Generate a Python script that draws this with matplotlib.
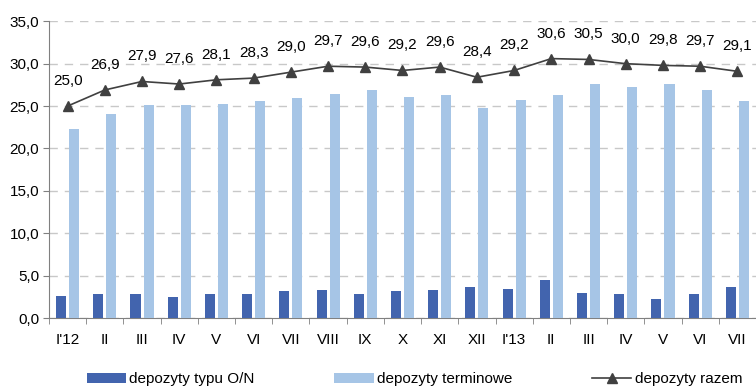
import numpy as np
import matplotlib.pyplot as plt

plt.rcParams['font.family'] = ['Liberation Sans', 'DejaVu Sans']

# data (bn PLN)
months = ["I'12", 'II', 'III', 'IV', 'V', 'VI', 'VII', 'VIII', 'IX', 'X', 'XI', 'XII',
          "I'13", 'II', 'III', 'IV', 'V', 'VI', 'VII']
on_dep = [2.6, 2.8, 2.8, 2.5, 2.8, 2.8, 3.2, 3.3, 2.8, 3.2, 3.3, 3.6,
          3.4, 4.5, 2.9, 2.8, 2.2, 2.8, 3.6]
term_dep = [22.3, 24.1, 25.1, 25.1, 25.2, 25.6, 25.9, 26.4, 26.9, 26.1, 26.3, 24.8,
            25.7, 26.3, 27.6, 27.2, 27.6, 26.9, 25.6]
total_dep = [25.0, 26.9, 27.9, 27.6, 28.1, 28.3, 29.0, 29.7, 29.6, 29.2, 29.6, 28.4,
             29.2, 30.6, 30.5, 30.0, 29.8, 29.7, 29.1]

fig = plt.figure(figsize=(7.56, 3.88), dpi=100)
ax = fig.add_axes([0.0648, 0.1804, 0.9352, 0.7647])

x = np.arange(len(months))
w = 0.27
b1 = ax.bar(x - 0.175, on_dep, w, color='#4264AE', label='depozyty typu O/N', zorder=3)
b2 = ax.bar(x + 0.175, term_dep, w, color='#A6C5E6', label='depozyty terminowe', zorder=3)
l1, = ax.plot(x, total_dep, color='#404040', lw=1.2, marker='^', ms=7,
              label='depozyty razem', zorder=4)

for xi, v in zip(x, total_dep):
    ax.annotate(f'{v:.1f}'.replace('.', ','), (xi, v), xytext=(0, 18),
                textcoords='offset points', ha='center', va='center', fontsize=11,
                color='black')

ax.set_ylim(0, 35)
ax.set_xlim(-0.5, 18.45)
ax.set_yticks(np.arange(0, 35.1, 5))
ax.set_yticklabels([f'{v:.1f}'.replace('.', ',') for v in np.arange(0, 35.1, 5)], fontsize=11)
ax.set_xticks(x)
ax.set_xticklabels(months, fontsize=11)
ax.set_xticks(np.arange(-0.5, 19, 1), minor=True)
ax.tick_params(axis='x', which='major', length=0, pad=11)
ax.tick_params(axis='x', which='minor', length=4, color='#808080')
ax.tick_params(axis='y', length=4, color='#808080', pad=3)

ax.yaxis.grid(True, color='#C8C8C8', linestyle=(0, (6, 5)), lw=1, zorder=0)
for s in ['top', 'right']:
    ax.spines[s].set_visible(False)
for s in ['left', 'bottom']:
    ax.spines[s].set_color('#808080')

fig.legend([b1, b2, l1], ['depozyty typu O/N', 'depozyty terminowe', 'depozyty razem'],
           loc='center', bbox_to_anchor=(0.548, 0.022), ncol=3, frameon=False,
           fontsize=11, handlelength=2.6, handleheight=0.7, columnspacing=5.2,
           handletextpad=0.2, borderpad=0)

fig.savefig('out.png', dpi=100)
